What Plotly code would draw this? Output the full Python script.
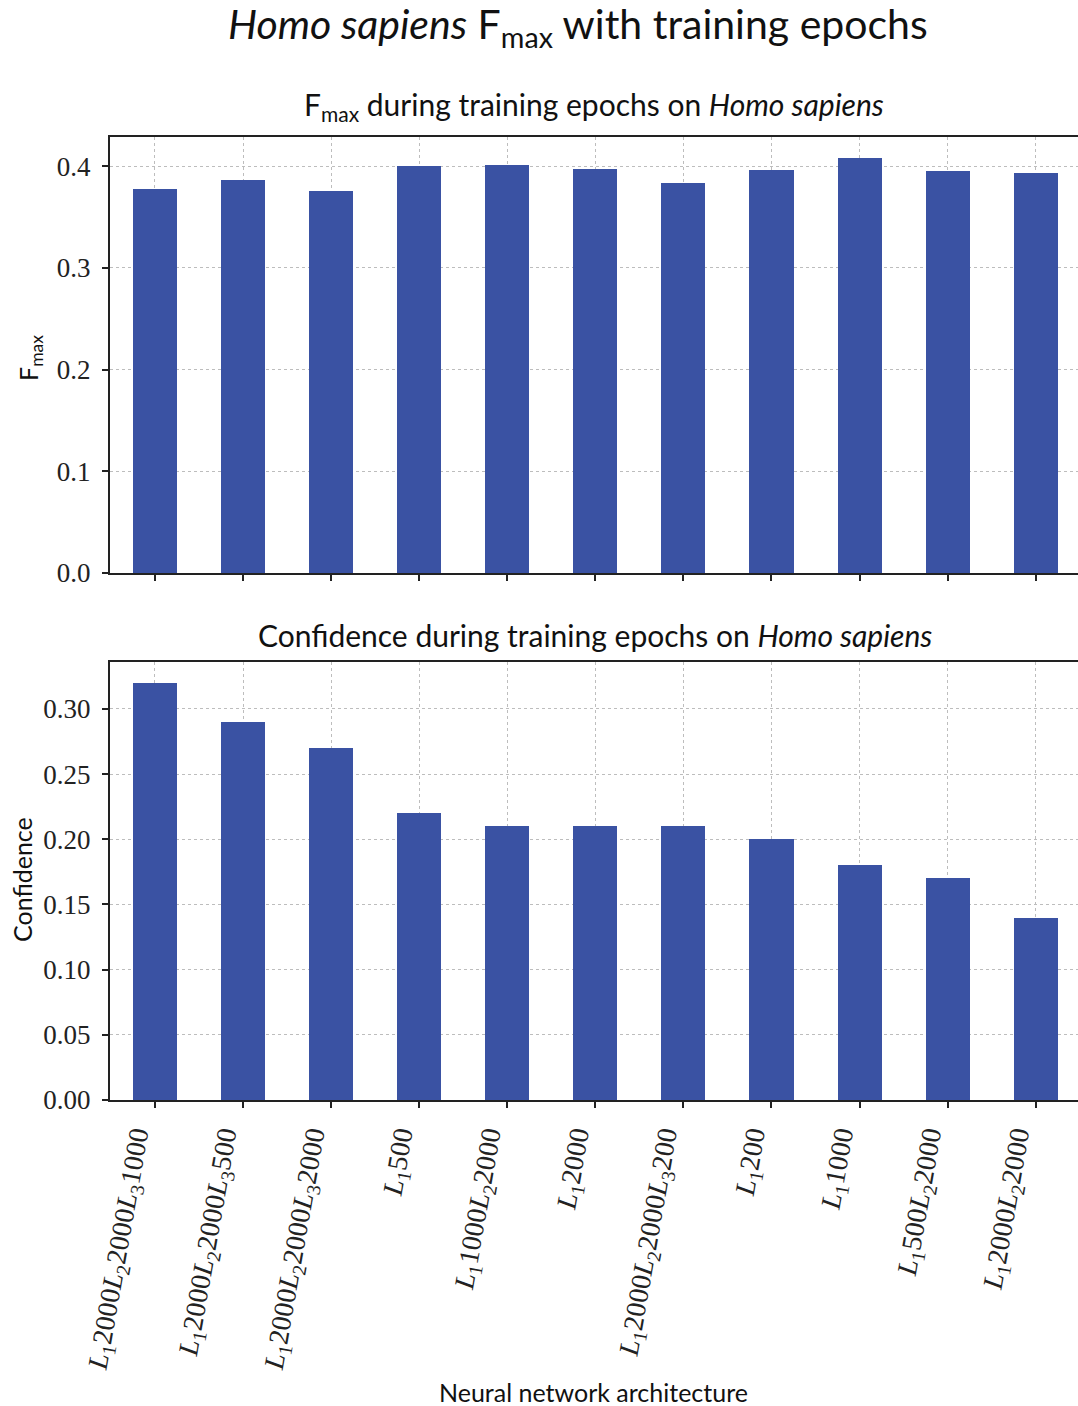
import plotly.graph_objects as go

# Architectures: (layer index, units) pairs in plotting order
arch_layers = [
    [(1, 2000), (2, 2000), (3, 1000)],
    [(1, 2000), (2, 2000), (3, 500)],
    [(1, 2000), (2, 2000), (3, 2000)],
    [(1, 500)],
    [(1, 1000), (2, 2000)],
    [(1, 2000)],
    [(1, 2000), (2, 2000), (3, 200)],
    [(1, 200)],
    [(1, 1000)],
    [(1, 500), (2, 2000)],
    [(1, 2000), (2, 2000)],
]

fmax_values = [0.378, 0.386, 0.376, 0.400, 0.401, 0.397, 0.383, 0.396, 0.408, 0.395, 0.393]
confidence_values = [0.32, 0.29, 0.27, 0.22, 0.21, 0.21, 0.21, 0.20, 0.18, 0.17, 0.14]

fmax_ticks = [0.0, 0.1, 0.2, 0.3, 0.4]
conf_ticks = [0.00, 0.05, 0.10, 0.15, 0.20, 0.25, 0.30]


def arch_text(layers):
    up = '<span style="font-style:normal">'
    return "".join(f'<i>L</i>{up}<sub>{i}</sub></span>{up}{n}</span>' for i, n in layers)


arch_labels = [arch_text(a) for a in arch_layers]
positions = list(range(len(arch_labels)))

BAR = "#3a52a3"
SERIF = "Liberation Serif"
SANS = "Lato"
W, H = 1078, 1406

fig = go.Figure()
fig.add_trace(go.Bar(x=positions, y=fmax_values, width=0.5, marker=dict(color=BAR, line=dict(width=0)),
                     xaxis="x", yaxis="y", showlegend=False))
fig.add_trace(go.Bar(x=positions, y=confidence_values, width=0.5, marker=dict(color=BAR, line=dict(width=0)),
                     xaxis="x2", yaxis="y2", showlegend=False))

x_dom = [110 / W, 1.0]
top_dom = [1 - 573 / H, 1 - 137 / H]
bot_dom = [1 - 1100 / H, 1 - 662 / H]

grid = dict(showgrid=True, gridcolor="#bdbdbd", gridwidth=1, griddash="dot")
xcommon = dict(range=[-0.51, 10.48], tickvals=positions, ticks="outside", ticklen=6, tickwidth=2,
               tickcolor="#222", showline=True, linecolor="#222", linewidth=2, mirror=True,
               zeroline=False, automargin=False, **grid)
ycommon = dict(ticks="outside", ticklen=6, tickwidth=2, tickcolor="#222", showline=True,
               linecolor="#222", linewidth=2, zeroline=False, automargin=False,
               ticklabelstandoff=6,
               tickfont=dict(family=SERIF, size=27, color="#222"), **grid)

fig.update_layout(
    width=W, height=H,
    margin=dict(l=0, r=0, t=0, b=0),
    paper_bgcolor="white", plot_bgcolor="white",
    bargap=0,
    xaxis=dict(domain=x_dom, anchor="y", showticklabels=False, **xcommon),
    yaxis=dict(domain=top_dom, anchor="x", range=[0, 0.4287], tickvals=fmax_ticks,
               ticktext=[f"{v:.1f}" for v in fmax_ticks], **ycommon),
    xaxis2=dict(domain=x_dom, anchor="y2", ticktext=arch_labels, tickangle=-80,
                ticklabelshift=-20,
                tickfont=dict(family=SERIF, size=28, color="#222"), **xcommon),
    yaxis2=dict(domain=bot_dom, anchor="x2", range=[0, 0.336], tickvals=conf_ticks,
                ticktext=[f"{v:.2f}" for v in conf_ticks], **ycommon),
)


def label(text, x, y, size, angle=0):
    fig.add_annotation(text=text, x=x / W, y=1 - y / H, xref="paper", yref="paper",
                       showarrow=False, textangle=angle, xanchor="center", yanchor="middle",
                       font=dict(family=SANS, size=size, color="#111"))


label("<i>Homo sapiens</i> F<sub>max</sub> with training epochs", 578, 26, 41)
label("F<sub>max</sub> during training epochs on <i>Homo sapiens</i>", 594, 106, 30)
label("Confidence during training epochs on <i>Homo sapiens</i>", 595, 635, 30)
label("F<sub>max</sub>", 30, 358, 25, -90)
label("Confidence", 22, 880, 25, -90)
label("Neural network architecture", 593, 1392, 25)

fig.write_html("out.html")
